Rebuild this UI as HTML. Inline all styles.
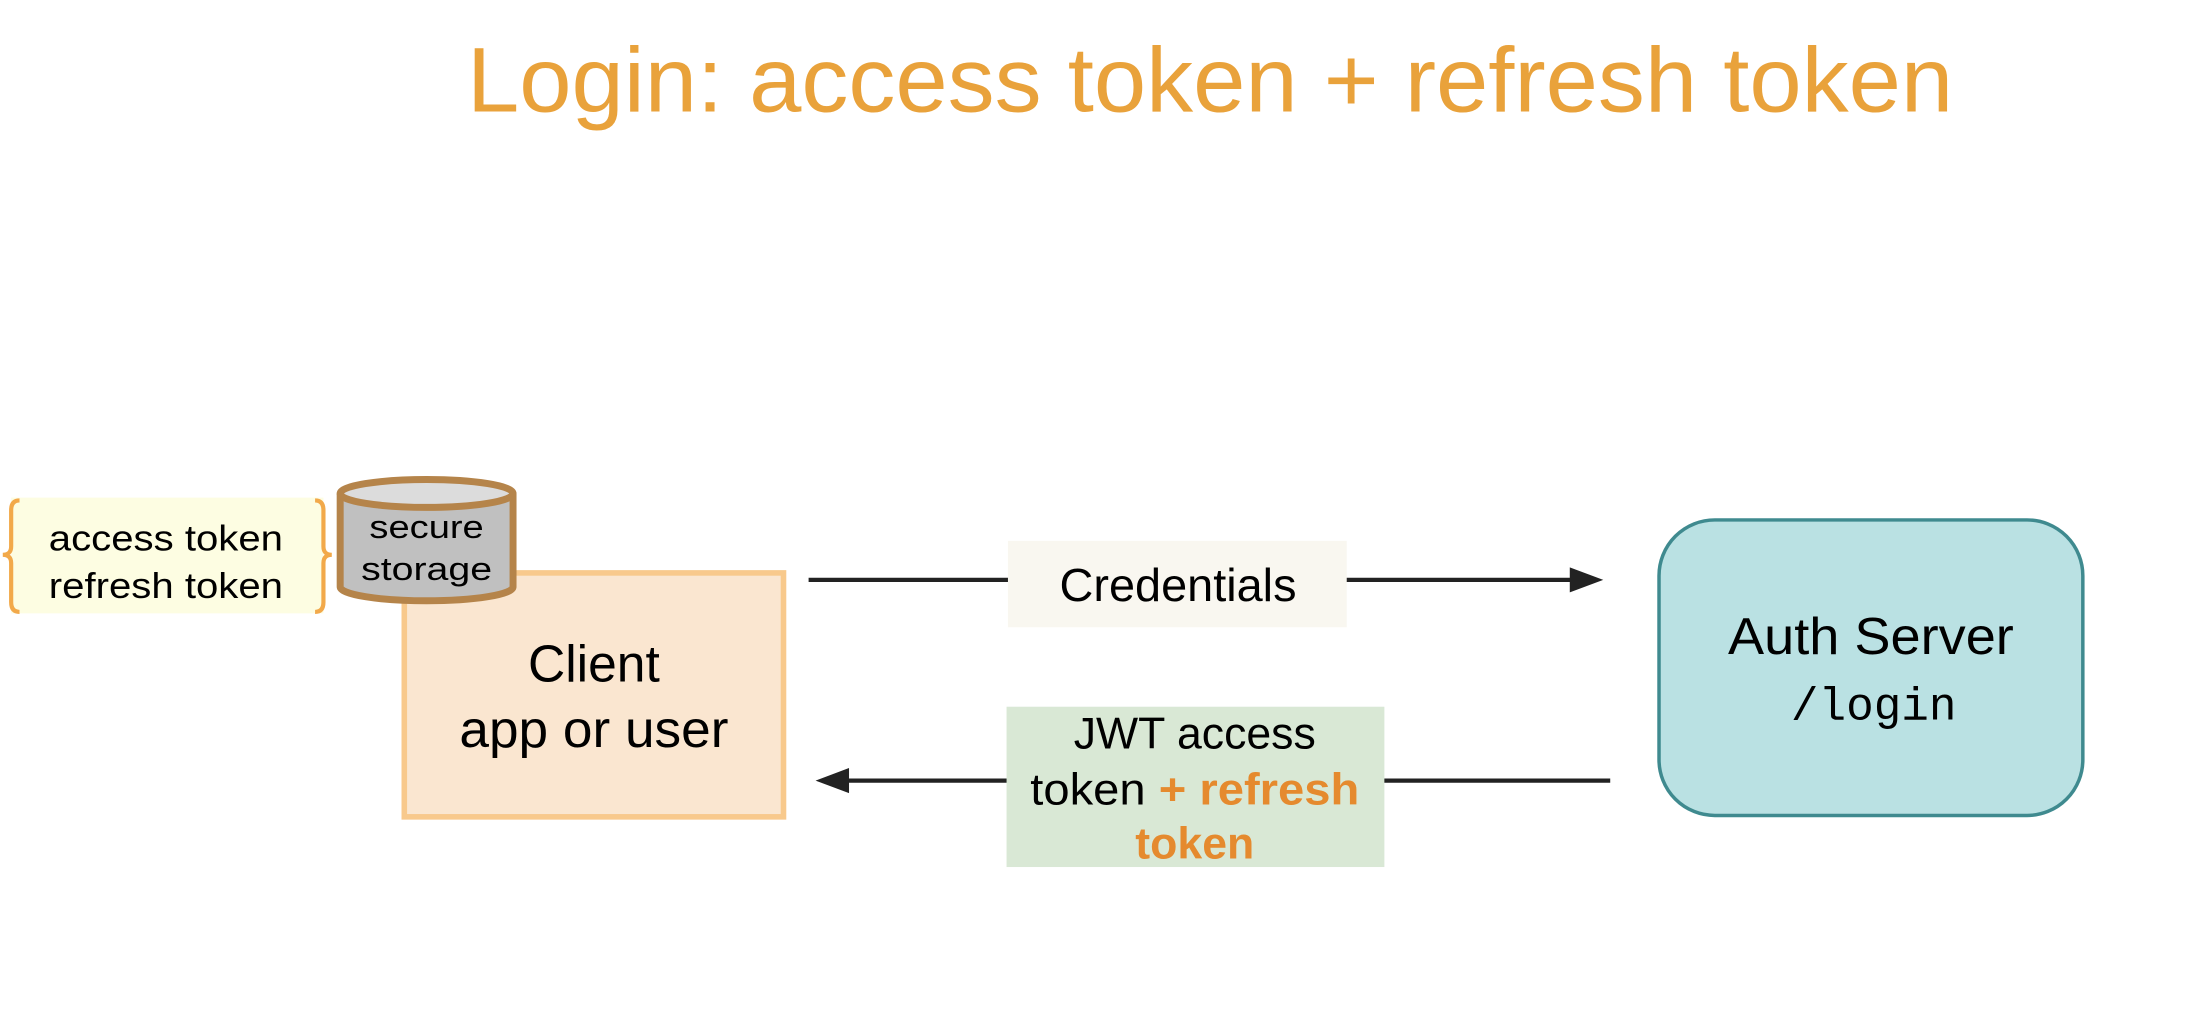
<!DOCTYPE html>
<html><head><meta charset="utf-8"><style>html,body{margin:0;padding:0;background:#fff;}svg{display:block;}</style></head>
<body>
<svg width="2186" height="1012" viewBox="0 0 1568 726" preserveAspectRatio="none" xmlns="http://www.w3.org/2000/svg" font-family="Liberation Sans, Arial, sans-serif">
<text x="868" y="80" text-anchor="middle" font-size="66" fill="#E9A23B" textLength="1066" lengthAdjust="spacingAndGlyphs">Login: access token + refresh token</text>

<rect x="8" y="357" width="224" height="83" fill="#fdfde2"/>
<path d="M14,359 Q8,359 8,366 L8,392 Q8,398 2,398 Q8,398 8,404 L8,432 Q8,439 14,439" fill="none" stroke="#f2a94a" stroke-width="3"/>
<path d="M226,359 Q232,359 232,366 L232,392 Q232,398 238,398 Q232,398 232,404 L232,432 Q232,439 226,439" fill="none" stroke="#f2a94a" stroke-width="3"/>
<text x="119" y="395" text-anchor="middle" font-size="26" textLength="168" lengthAdjust="spacingAndGlyphs">access token</text>
<text x="119" y="429" text-anchor="middle" font-size="26" textLength="168" lengthAdjust="spacingAndGlyphs">refresh token</text>

<rect x="290" y="411" width="272" height="175" fill="#fae6d0" stroke="#f8c98c" stroke-width="4"/>
<text x="426" y="489" text-anchor="middle" font-size="37">Client</text>
<text x="426" y="536" text-anchor="middle" font-size="37" textLength="193" lengthAdjust="spacingAndGlyphs">app or user</text>

<path d="M244,354 L244,421 A62,10 0 0 0 368,421 L368,354" fill="#c0c0c0" stroke="#b5844a" stroke-width="5"/>
<ellipse cx="306" cy="354" rx="62" ry="10" fill="#dcdcdc" stroke="#b5844a" stroke-width="5"/>
<text x="306" y="386" text-anchor="middle" font-size="23" textLength="82" lengthAdjust="spacingAndGlyphs">secure</text>
<text x="306" y="416" text-anchor="middle" font-size="23" textLength="94" lengthAdjust="spacingAndGlyphs">storage</text>

<line x1="580" y1="416" x2="1130" y2="416" stroke="#222" stroke-width="3"/>
<polygon points="1150,416 1126,407 1126,425" fill="#222"/>
<rect x="723" y="388" width="243" height="62" fill="#f9f7f0"/>
<text x="845" y="431" text-anchor="middle" font-size="33" textLength="170" lengthAdjust="spacingAndGlyphs">Credentials</text>

<line x1="605" y1="560" x2="1155" y2="560" stroke="#222" stroke-width="3"/>
<polygon points="585,560 609,551 609,569" fill="#222"/>
<rect x="722" y="507" width="271" height="115" fill="#d9e8d5"/>
<text x="857" y="537" text-anchor="middle" font-size="32">JWT access</text>
<text x="857" y="577" text-anchor="middle" font-size="32" textLength="236" lengthAdjust="spacingAndGlyphs">token <tspan fill="#e58a2e" font-weight="bold">+ refresh</tspan></text>
<text x="857" y="616" text-anchor="middle" font-size="32" fill="#e58a2e" font-weight="bold">token</text>

<rect x="1190" y="373" width="304" height="212" rx="40" ry="40" fill="#bae1e3" stroke="#3f8a8f" stroke-width="2.5"/>
<text x="1342" y="469" text-anchor="middle" font-size="37" textLength="205" lengthAdjust="spacingAndGlyphs">Auth Server</text>
<text x="1344" y="516" text-anchor="middle" font-size="33" font-family="Liberation Mono, monospace">/login</text>
</svg>
</body></html>
